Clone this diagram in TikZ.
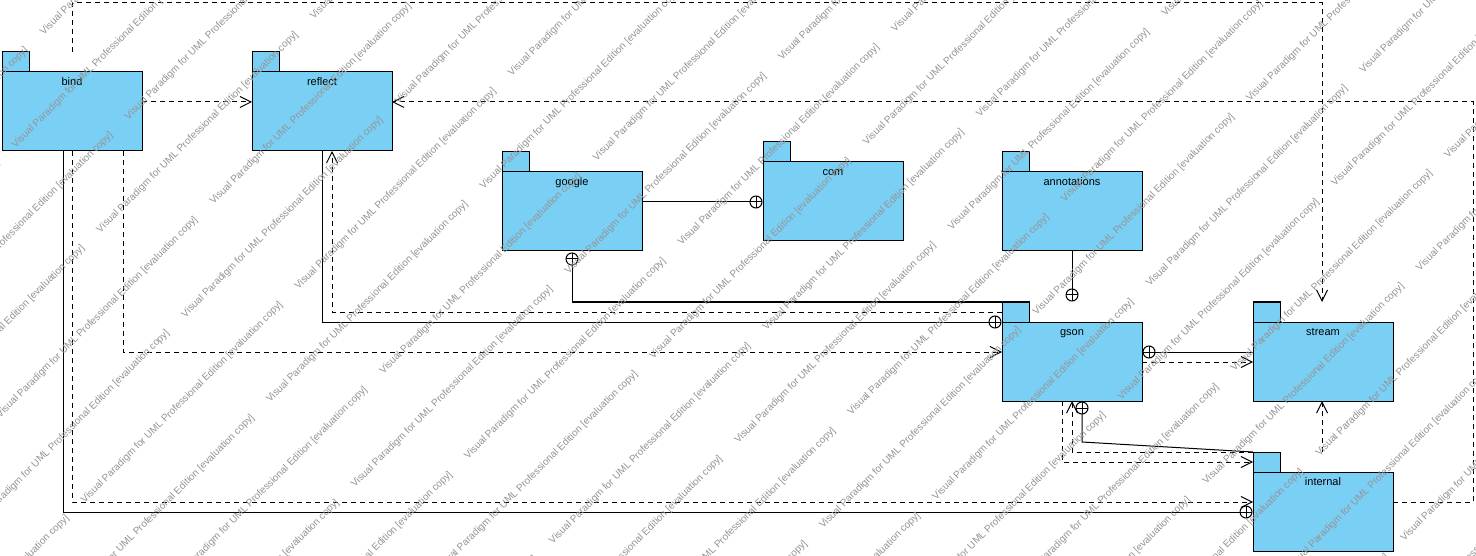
\documentclass[tikz,border=0pt]{standalone}
\usepackage{fontspec}
\setmainfont{Liberation Sans}
\usetikzlibrary{arrows.meta}
\definecolor{pkgfill}{RGB}{122,207,245}
\tikzset{
  pkgbody/.style={draw=black, fill=pkgfill, line width=1pt, minimum width=140pt, minimum height=79pt, inner sep=0pt, outer sep=0pt, anchor=north west},
  pkgtab/.style={draw=black, fill=pkgfill, line width=1pt, minimum width=27pt, minimum height=20pt, inner sep=0pt, outer sep=0pt, anchor=south west},
  pkglabel/.style={font=\fontsize{11}{13}\selectfont, anchor=base, inner sep=0pt},
  dep/.style={line width=1pt, dash pattern=on 5pt off 4pt, -{Straight Barb[length=11pt,width=11pt,line width=1pt]}},
  depline/.style={line width=1pt, dash pattern=on 5pt off 4pt},
  nest/.style={line width=1pt},
  cplus/.style={circle, draw=black, line width=1pt, minimum size=12pt, inner sep=0pt, outer sep=0pt,
    path picture={\draw[line width=1pt] (path picture bounding box.north) -- (path picture bounding box.south)
      (path picture bounding box.west) -- (path picture bounding box.east);}},
  wm/.style={font=\fontsize{10}{12}\selectfont, text=black!42, rotate=45, anchor=base west, inner sep=0pt},
}
\begin{document}
\begin{tikzpicture}[x=1pt,y=-1pt]
\useasboundingbox (0,0) rectangle (1476,556);
\fill[white] (0,0) rectangle (1476,556);

% packages
\node[pkgtab]  (bindtab) at (2,72) {};
\node[pkgbody] (bind) at (2,72) {};
\node[pkglabel] (bindlbl) at ([yshift=-13.5pt]bind.north) {bind};

\node[pkgtab]  (reflecttab) at (252,72) {};
\node[pkgbody] (reflect) at (252,72) {};
\node[pkglabel] (reflectlbl) at ([yshift=-13.5pt]reflect.north) {reflect};

\node[pkgtab]  (googletab) at (502,172) {};
\node[pkgbody] (google) at (502,172) {};
\node[pkglabel] (googlelbl) at ([yshift=-13.5pt]google.north) {google};

\node[pkgtab]  (comtab) at (763,162) {};
\node[pkgbody] (com) at (763,162) {};
\node[pkglabel] (comlbl) at ([yshift=-13.5pt]com.north) {com};

\node[pkgtab]  (annotationstab) at (1002,172) {};
\node[pkgbody] (annotations) at (1002,172) {};
\node[pkglabel] (annotationslbl) at ([yshift=-13.5pt]annotations.north) {annotations};

\node[pkgtab]  (gsontab) at (1002,322) {};
\node[pkgbody] (gson) at (1002,322) {};
\node[pkglabel] (gsonlbl) at ([yshift=-13.5pt]gson.north) {gson};

\node[pkgtab]  (streamtab) at (1253,322) {};
\node[pkgbody] (stream) at (1253,322) {};
\node[pkglabel] (streamlbl) at ([yshift=-13.5pt]stream.north) {stream};

\node[pkgtab]  (internaltab) at (1253,472) {};
\node[pkgbody] (internal) at (1253,472) {};
\node[pkglabel] (internallbl) at ([yshift=-13.5pt]internal.north) {internal};

% containment circles
\node[cplus] (cpB) at (1246,512) {};
\node[cplus] (cpR) at (995,322) {};
\node[cplus] (cpG) at (572,259) {};
\node[cplus] (cpC) at (756,202) {};
\node[cplus] (cpA) at (1072,295) {};
\node[cplus] (cpS) at (1149,352) {};
\node[cplus] (cpI) at (1082,408) {};

\coordinate (topright) at (1322,3);
\coordinate (rightcol) at (1473,102);
\coordinate (bend) at (1082,442);

% connectors
\draw[dep] (bind.east |- 0,102) -- (reflect.west |- 0,102);
\draw[dep] (internal.east |- 0,502) -| (rightcol) -- (reflect.east |- 0,102);
\draw[dep] (72,0 |- bindtab.north) |- (topright) -- (1322,0 |- streamtab.north);
\draw[nest] (63,0 |- bind.south) |- (cpB);
\draw[dep] (72,0 |- bind.south) |- (internal.west |- 0,502);
\draw[dep] (123,0 |- bind.south) |- (gson.west |- 0,352);
\draw[nest] (322,0 |- reflect.south) |- (cpR);
\draw[dep] (gsontab.west) -| (332,0 |- reflect.south);
\draw[nest] (cpG) |- (gsontab.north west);
\draw[nest] (google.east |- 0,202) -- (cpC);
\draw[nest] (1072,0 |- annotations.south) -- (cpA);
\draw[nest] (cpS) -- (stream.west |- 0,352);
\draw[dep] (gson.east |- 0,362) -- (stream.west |- 0,362);
\draw[nest] (cpI) -- (bend) -- (internaltab.north west);
\draw[dep] (internaltab.north west) -| (1072,0 |- gson.south);
\draw[dep] (1062,0 |- gson.south) |- (internaltab.west);
\draw[dep] (1322,0 |- internaltab.north) -- (1322,0 |- stream.south);

% watermark
\begin{scope}
\clip (0,0) rectangle (1476,556);
\foreach \j in {-9,...,17}{
  \foreach \k in {-3,...,4}{
    \pgfmathsetmacro\uu{100*abs(mod(\j,2)) + 302*\k}
    \pgfmathsetmacro\vv{60*\j}
    \pgfmathsetmacro\px{270+0.70711*(\uu+\vv)}
    \pgfmathsetmacro\py{403+0.70711*(\vv-\uu)}
    \node[wm, name=wm\j x\k] at (\px,\py) {Visual Paradigm for UML Professional Edition [evaluation copy]};
  }
}
\end{scope}
\end{tikzpicture}
\end{document}
